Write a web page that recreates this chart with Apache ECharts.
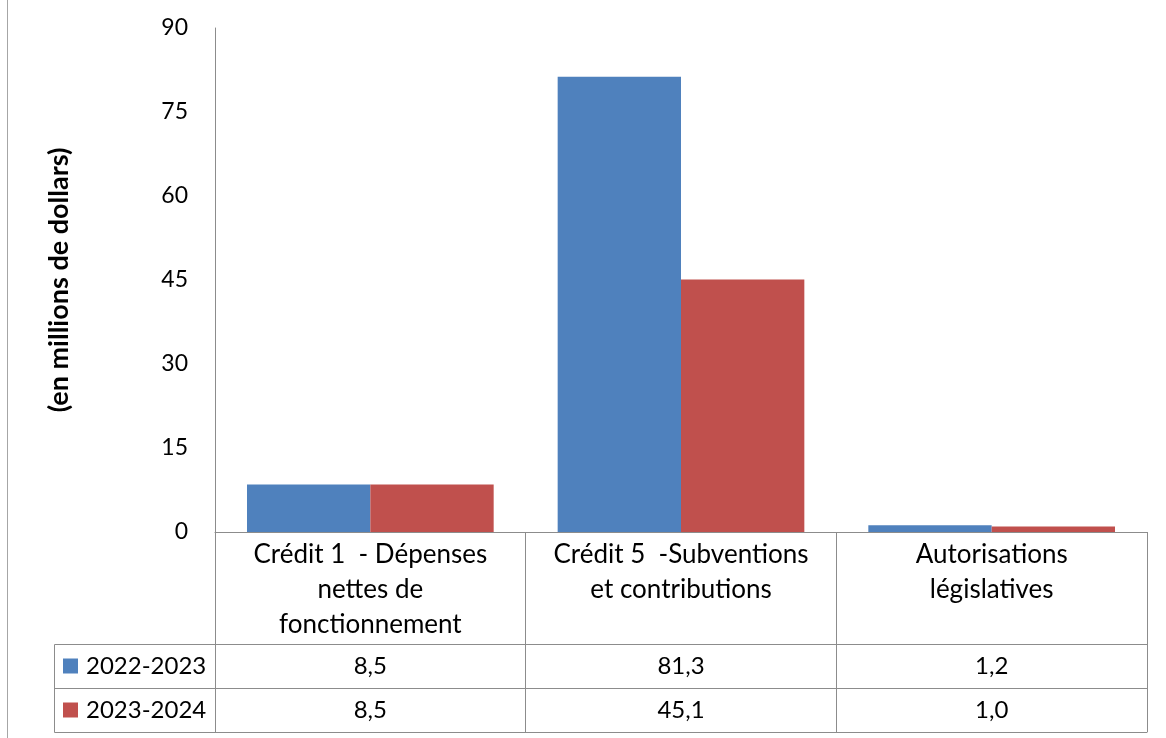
<!DOCTYPE html>
<html><head><meta charset="utf-8">
<script src="https://cdn.jsdelivr.net/npm/echarts@6/dist/echarts.min.js"></script>
<style>html,body{margin:0;padding:0;background:#fff}#c{width:1166px;height:738px}</style>
</head><body><div id="c"></div>
<script>
const categories = ['Crédit 1  - Dépenses\nnettes de\nfonctionnement', 'Crédit 5  -Subventions\net contributions', 'Autorisations\nlégislatives'];
const seriesNames = ['2022-2023', '2023-2024'];
const values2022 = [8.5, 81.3, 1.2];
const values2023 = [8.5, 45.1, 1.0];
const yMin = 0, yMax = 90, yStep = 15;
const fmt = v => v.toFixed(1).replace('.', ',');

const FONT = 'Lato, "Open Sans", sans-serif';
const LINE = '#8c8c8c';
const chart = echarts.init(document.getElementById('c'), null, {renderer: 'canvas'});
const tableAxis = (offset, vals) => ({
  type: 'category', data: categories, gridIndex: 0, position: 'bottom', offset: offset,
  axisLine: {show: true, lineStyle: {color: LINE, width: 1}},
  axisTick: {show: false},
  axisLabel: vals ? {show: true, interval: 0, margin: 0, fontSize: 24, lineHeight: 44, color: '#000', fontFamily: FONT,
    formatter: (v, i) => fmt(vals[i])} : {show: false}
});
chart.setOption({
  animation: false,
  textStyle: {fontFamily: FONT},
  grid: {left: 215, right: 19, top: 28, bottom: 206, containLabel: false},
  legend: {
    orient: 'vertical', left: 63, top: 644, padding: 0, itemGap: 0,
    itemWidth: 15, itemHeight: 15, icon: 'rect',
    textStyle: {fontSize: 24, lineHeight: 44, color: '#000', fontFamily: FONT, padding: [0, 0, 0, 3]},
    data: seriesNames
  },
  xAxis: [
    {
      type: 'category', data: categories, gridIndex: 0,
      axisLine: {show: true, lineStyle: {color: LINE, width: 1}},
      axisTick: {show: true, length: 200, alignWithLabel: false, lineStyle: {color: LINE, width: 1}},
      axisLabel: {interval: 0, margin: 5, fontSize: 26, lineHeight: 35, color: '#000', fontFamily: FONT}
    },
    tableAxis(112, values2022),
    tableAxis(156, values2023),
    tableAxis(200, null)
  ],
  yAxis: {
    type: 'value', min: yMin, max: yMax, interval: yStep,
    splitLine: {show: false},
    axisLine: {show: true, lineStyle: {color: LINE, width: 1}},
    axisTick: {show: false},
    axisLabel: {margin: 27, fontSize: 23, color: '#000', fontFamily: FONT},
    name: '(en millions de dollars)', nameLocation: 'middle', nameGap: 142,
    nameTextStyle: {fontSize: 27, fontWeight: 'bold', color: '#000', fontFamily: FONT}
  },
  series: [
    {name: seriesNames[0], type: 'bar', data: values2022, xAxisIndex: 0, barGap: '0%', barCategoryGap: '20.6%', itemStyle: {color: '#4F81BD'}},
    {name: seriesNames[1], type: 'bar', data: values2023, xAxisIndex: 0, barGap: '0%', barCategoryGap: '20.6%', itemStyle: {color: '#C0504D'}}
  ],
  graphic: [
    {type: 'line', silent: true, shape: {x1: 7.5, y1: 0, x2: 7.5, y2: 738}, style: {stroke: '#a6a6a6', lineWidth: 1}},
    {type: 'line', silent: true, shape: {x1: 54.5, y1: 644.5, x2: 215, y2: 644.5}, style: {stroke: LINE, lineWidth: 1}},
    {type: 'line', silent: true, shape: {x1: 54.5, y1: 688.5, x2: 215, y2: 688.5}, style: {stroke: LINE, lineWidth: 1}},
    {type: 'line', silent: true, shape: {x1: 54.5, y1: 732.5, x2: 215, y2: 732.5}, style: {stroke: LINE, lineWidth: 1}},
    {type: 'line', silent: true, shape: {x1: 54.5, y1: 644.5, x2: 54.5, y2: 732.5}, style: {stroke: LINE, lineWidth: 1}}
  ]
});
</script></body></html>
